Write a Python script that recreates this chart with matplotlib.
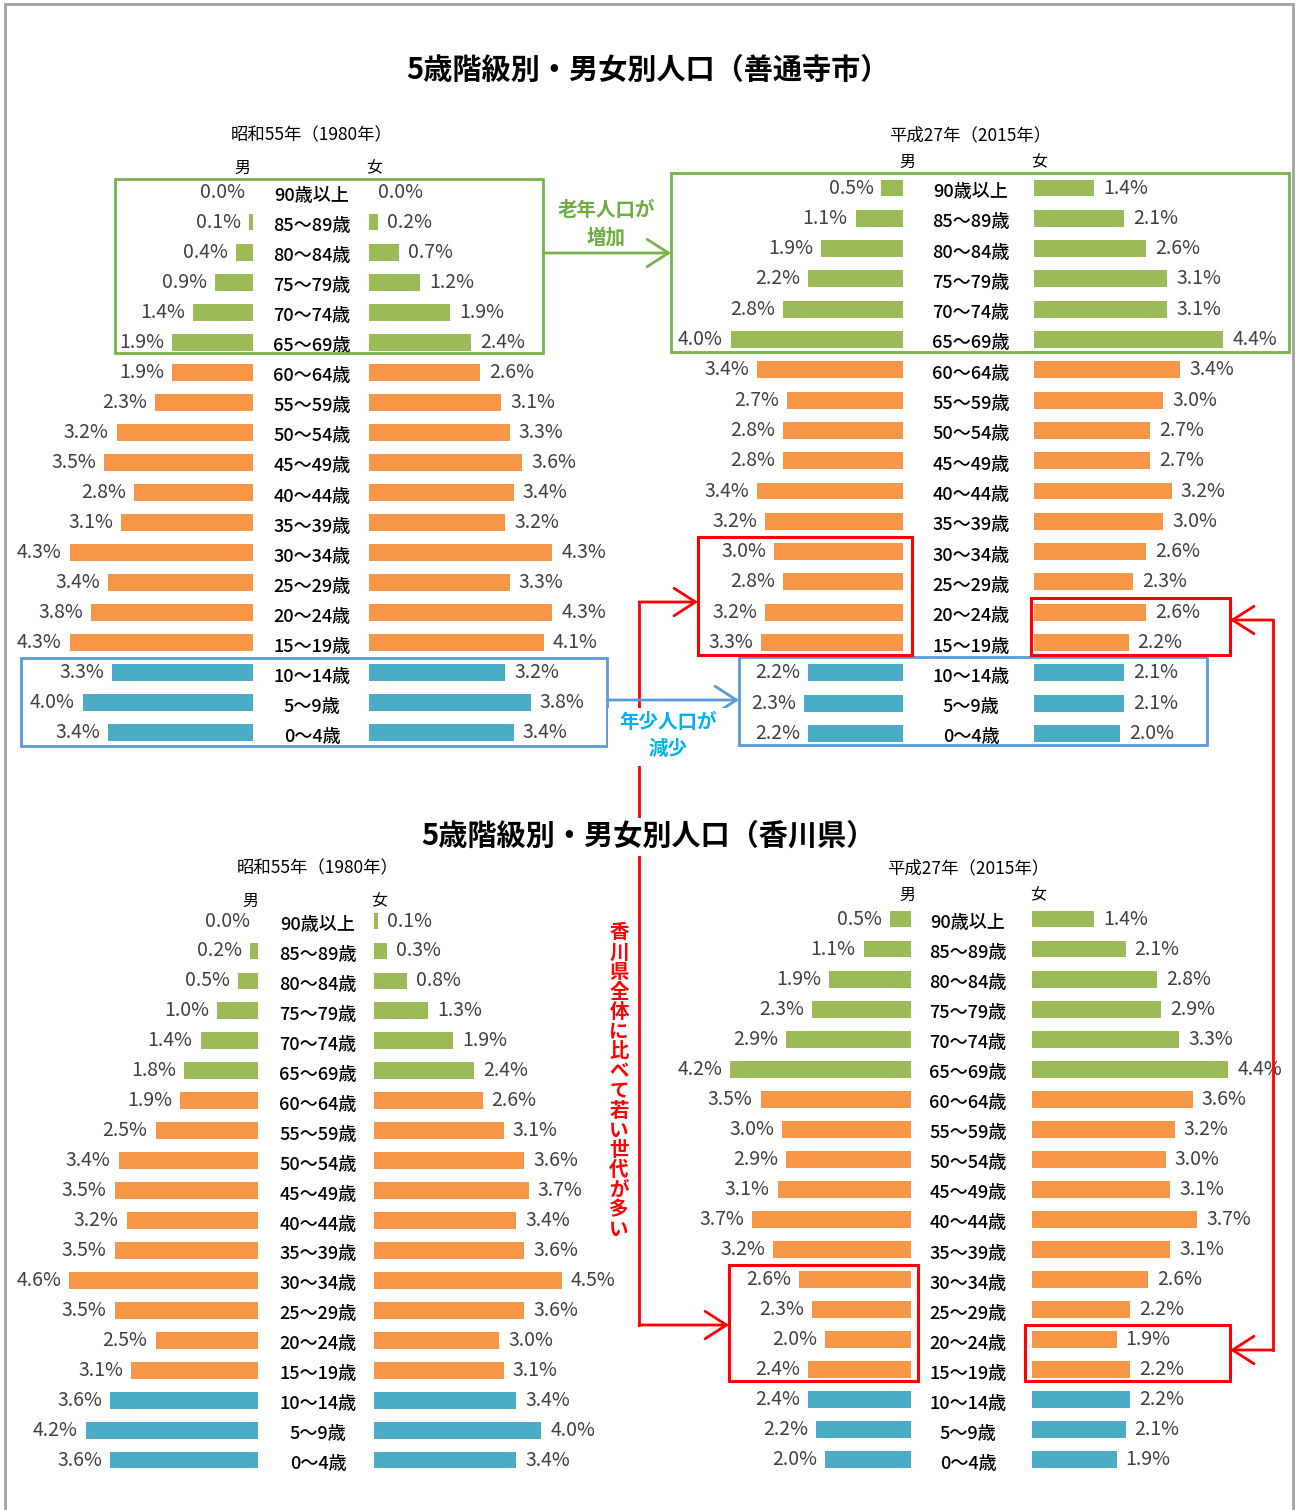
import matplotlib
matplotlib.use("Agg")
import matplotlib.pyplot as plt
from matplotlib.patches import Rectangle

plt.rcParams['font.family'] = ['Noto Sans CJK JP', 'DejaVu Sans']

# ---------------- data ----------------
ages = ["90歳以上", "85～89歳", "80～84歳", "75～79歳", "70～74歳", "65～69歳",
        "60～64歳", "55～59歳", "50～54歳", "45～49歳", "40～44歳", "35～39歳",
        "30～34歳", "25～29歳", "20～24歳", "15～19歳", "10～14歳", "5～9歳", "0～4歳"]

zentsuji_1980_male = [0.0, 0.1, 0.4, 0.9, 1.4, 1.9, 1.9, 2.3, 3.2, 3.5, 2.8, 3.1, 4.3, 3.4, 3.8, 4.3, 3.3, 4.0, 3.4]
zentsuji_1980_female = [0.0, 0.2, 0.7, 1.2, 1.9, 2.4, 2.6, 3.1, 3.3, 3.6, 3.4, 3.2, 4.3, 3.3, 4.3, 4.1, 3.2, 3.8, 3.4]
zentsuji_2015_male = [0.5, 1.1, 1.9, 2.2, 2.8, 4.0, 3.4, 2.7, 2.8, 2.8, 3.4, 3.2, 3.0, 2.8, 3.2, 3.3, 2.2, 2.3, 2.2]
zentsuji_2015_female = [1.4, 2.1, 2.6, 3.1, 3.1, 4.4, 3.4, 3.0, 2.7, 2.7, 3.2, 3.0, 2.6, 2.3, 2.6, 2.2, 2.1, 2.1, 2.0]
kagawa_1980_male = [0.0, 0.2, 0.5, 1.0, 1.4, 1.8, 1.9, 2.5, 3.4, 3.5, 3.2, 3.5, 4.6, 3.5, 2.5, 3.1, 3.6, 4.2, 3.6]
kagawa_1980_female = [0.1, 0.3, 0.8, 1.3, 1.9, 2.4, 2.6, 3.1, 3.6, 3.7, 3.4, 3.6, 4.5, 3.6, 3.0, 3.1, 3.4, 4.0, 3.4]
kagawa_2015_male = [0.5, 1.1, 1.9, 2.3, 2.9, 4.2, 3.5, 3.0, 2.9, 3.1, 3.7, 3.2, 2.6, 2.3, 2.0, 2.4, 2.4, 2.2, 2.0]
kagawa_2015_female = [1.4, 2.1, 2.8, 2.9, 3.3, 4.4, 3.6, 3.2, 3.0, 3.1, 3.7, 3.1, 2.6, 2.2, 1.9, 2.2, 2.2, 2.1, 1.9]

title_top = "5歳階級別・男女別人口（善通寺市）"
title_bottom = "5歳階級別・男女別人口（香川県）"
year_1980 = "昭和55年（1980年）"
year_2015 = "平成27年（2015年）"

GREEN = "#9BBB59"
ORANGE = "#F79646"
BLUE = "#4BACC6"

def age_color(i):
    if i <= 5:
        return GREEN
    if i <= 15:
        return ORANGE
    return BLUE

W, H = 1297, 1510
fig = plt.figure(figsize=(W / 100, H / 100), dpi=100)

def ax_px(x0, y0, x1, y1, z=1):
    a = fig.add_axes([x0 / W, 1 - y1 / H, (x1 - x0) / W, (y1 - y0) / H], zorder=z)
    a.set_axis_off()
    return a

LABEL_FS = 14
AGE_FS = 13

# overlay axes in pixel coords
ov = fig.add_axes([0, 0, 1, 1], zorder=5)
ov.set_xlim(0, W)
ov.set_ylim(H, 0)
ov.set_axis_off()
ov.patch.set_alpha(0)

def pyramid(male, female, mx, fx, ppm, ppf, y0, dy, agex, span=5.8):
    n = len(ages)
    top = y0 - dy / 2
    bot = y0 + (n - 1) * dy + dy / 2
    colors = [age_color(i) for i in range(n)]
    ym = list(range(n))
    # male
    am = ax_px(mx - span * ppm, top, mx, bot)
    am.barh(ym, male, height=0.56, color=colors, edgecolor='none')
    am.set_xlim(span, 0)
    am.set_ylim(n - 0.5, -0.5)
    for i, v in enumerate(male):
        am.annotate(f"{v:.1f}%", xy=(v, i), xytext=(-8, 0), textcoords='offset pixels',
                    ha='right', va='center', fontsize=LABEL_FS, color='#404040')
    # female
    af = ax_px(fx, top, fx + span * ppf, bot)
    af.barh(ym, female, height=0.56, color=colors, edgecolor='none')
    af.set_xlim(0, span)
    af.set_ylim(n - 0.5, -0.5)
    for i, v in enumerate(female):
        af.annotate(f"{v:.1f}%", xy=(v, i), xytext=(9, 0), textcoords='offset pixels',
                    ha='left', va='center', fontsize=LABEL_FS, color='#404040')
    # age labels
    for i, a in enumerate(ages):
        ov.text(agex, y0 + i * dy + 4, a, ha='center', va='center', fontsize=AGE_FS,
                fontweight='medium', color='black')

pyramid(zentsuji_1980_male, zentsuji_1980_female, 253, 369, 42.6, 42.6, 192, 30.05, 312)
pyramid(zentsuji_2015_male, zentsuji_2015_female, 903, 1034, 43.0, 43.0, 188, 30.3, 971)
pyramid(kagawa_1980_male, kagawa_1980_female, 258, 374, 41.0, 41.8, 921, 29.95, 318)
pyramid(kagawa_2015_male, kagawa_2015_female, 911, 1032, 43.0, 44.6, 919, 30.05, 968)

# outer border
ov.plot([5, 5, 1293, 1293], [1510, 4, 4, 1510], color='#A0A0A0', lw=2, solid_joinstyle='miter')

# titles and headings
ov.text(648, 70, title_top, ha='center', va='center', fontsize=21, fontweight='bold', color='black', zorder=10)
ov.text(312, 135, year_1980, ha='center', va='center', fontsize=12.5, color='black')
ov.text(970, 135, year_2015, ha='center', va='center', fontsize=12.5, color='black')
ov.text(242, 168, "男", ha='center', va='center', fontsize=11.5)
ov.text(374, 168, "女", ha='center', va='center', fontsize=11.5)
ov.text(907, 162, "男", ha='center', va='center', fontsize=11.5)
ov.text(1039, 162, "女", ha='center', va='center', fontsize=11.5)

ov.text(318, 868, year_1980, ha='center', va='center', fontsize=12.5, color='black')
ov.text(968, 868, year_2015, ha='center', va='center', fontsize=12.5, color='black')
ov.text(250, 901, "男", ha='center', va='center', fontsize=11.5)
ov.text(379, 901, "女", ha='center', va='center', fontsize=11.5)
ov.text(907, 895, "男", ha='center', va='center', fontsize=11.5)
ov.text(1038, 895, "女", ha='center', va='center', fontsize=11.5)

def box(x0, y0, x1, y1, color, lw=2):
    ov.add_patch(Rectangle((x0, y0), x1 - x0, y1 - y0, fill=False, edgecolor=color, lw=lw, zorder=6))

def arrow(x0, y0, x1, y1, color, lw=2):
    ov.annotate('', xy=(x1, y1), xytext=(x0, y0),
                arrowprops=dict(arrowstyle='->,head_length=0.7,head_width=0.45', color=color, lw=lw,
                                shrinkA=0, shrinkB=0, mutation_scale=22), zorder=6)

BOXGREEN = "#77B24A"
BOXBLUE = "#5B9BD5"
RED = "#FF0000"

# green (elderly) boxes
box(115, 179, 543, 353, BOXGREEN)
box(671, 173, 1289, 352, BOXGREEN)
arrow(543, 253, 671, 253, BOXGREEN)
ov.text(606, 210, "老年人口が", ha='center', va='center', fontsize=14, fontweight='bold', color='#6AAF3D', zorder=8)
ov.text(606, 238, "増加", ha='center', va='center', fontsize=14, fontweight='bold', color='#6AAF3D', zorder=8)

# red lines (behind texts)
ov.plot([639, 639], [602, 1325], color=RED, lw=2, zorder=5)
ov.plot([1273, 1273], [620, 1350], color=RED, lw=2, zorder=5)
arrow(639, 602, 698, 602, RED)
arrow(639, 1325, 729, 1325, RED)
arrow(1273, 620, 1230, 620, RED)
arrow(1273, 1350, 1230, 1350, RED)

# blue (young) boxes
box(21, 658, 607, 746, BOXBLUE)
box(739, 657, 1207, 745, BOXBLUE)
arrow(607, 700, 739, 700, BOXBLUE)
ov.add_patch(Rectangle((608, 708), 122, 58, facecolor='white', edgecolor='none', zorder=7))
ov.text(668, 722, "年少人口が", ha='center', va='center', fontsize=14, fontweight='bold', color='#00B0F0', zorder=8)
ov.text(668, 749, "減少", ha='center', va='center', fontsize=14, fontweight='bold', color='#00B0F0', zorder=8)

# red boxes
box(698, 537, 912, 655, RED, lw=2.2)
box(1031, 598, 1230, 655, RED, lw=2.2)
box(729, 1265, 918, 1381, RED, lw=2.2)
box(1025, 1325, 1230, 1381, RED, lw=2.2)

# bottom title with white background covering red line
ov.add_patch(Rectangle((415, 818), 470, 38, facecolor='white', edgecolor='none', zorder=9))
ov.text(648, 836, title_bottom, ha='center', va='center', fontsize=21, fontweight='bold', color='black', zorder=10)

# vertical red text
vtext = "香川県全体に比べて若い世代が多い"
for k, ch in enumerate(vtext):
    ov.text(619, 933 + k * 19.8, ch, ha='center', va='center', fontsize=14, fontweight='bold', color=RED, zorder=8)

fig.savefig("out.png", dpi=100)
